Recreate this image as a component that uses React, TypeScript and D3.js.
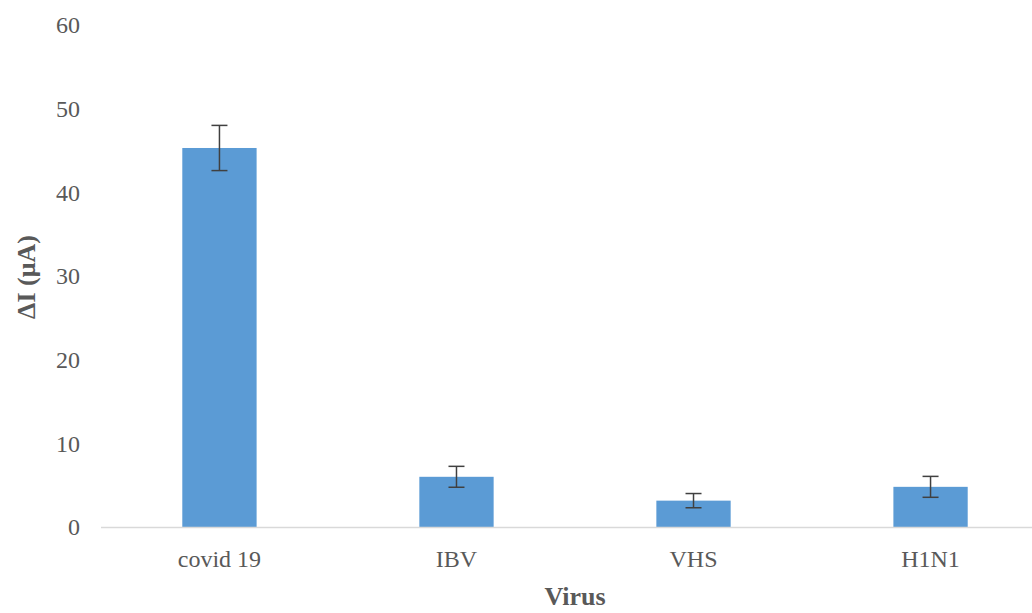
import React from "react";
import * as d3 from "d3";

const categories: string[] = ["covid 19", "IBV", "VHS", "H1N1"];
const currents: number[] = [45.3, 6.0, 3.15, 4.8];
const errors: number[] = [2.7, 1.25, 0.85, 1.25];
const yTicks: number[] = [0, 10, 20, 30, 40, 50, 60];

const W = 1032;
const H = 613;
const FONT = "'Liberation Serif', 'Times New Roman', serif";

export default function App() {
  const x = d3
    .scaleBand<string>()
    .domain(categories)
    .range([101, 1049])
    .paddingInner(0.6865)
    .paddingOuter(0.343);
  const y = d3.scaleLinear().domain([0, 60]).range([527, 25]);
  const bw = x.bandwidth();
  const cap = 8;

  return (
    <svg
      width={W}
      height={H}
      style={{ position: "absolute", left: 0, top: 0, background: "#fff" }}
      fontFamily={FONT}
    >
      {/* value axis labels */}
      {yTicks.map((t) => (
        <text
          key={t}
          x={80}
          y={y(t)}
          dy="0.35em"
          textAnchor="end"
          fontSize={24}
          fill="#595959"
        >
          {t}
        </text>
      ))}

      {/* bars */}
      {categories.map((c, i) => (
        <rect
          key={c}
          x={x(c)!}
          y={y(currents[i])}
          width={bw}
          height={y(0) - y(currents[i])}
          fill="#5B9BD5"
        />
      ))}

      {/* category axis line */}
      <line x1={101} x2={W} y1={527.5} y2={527.5} stroke="#D9D9D9" strokeWidth={1.5} />

      {/* error bars */}
      {categories.map((c, i) => {
        const cx = x(c)! + bw / 2;
        const hi = y(currents[i] + errors[i]);
        const lo = y(currents[i] - errors[i]);
        return (
          <g key={c} stroke="#404040" strokeWidth={1.5}>
            <line x1={cx} x2={cx} y1={hi} y2={lo} />
            <line x1={cx - cap} x2={cx + cap} y1={hi} y2={hi} />
            <line x1={cx - cap} x2={cx + cap} y1={lo} y2={lo} />
          </g>
        );
      })}

      {/* category labels */}
      {categories.map((c) => (
        <text
          key={c}
          x={x(c)! + bw / 2}
          y={567}
          textAnchor="middle"
          fontSize={24}
          fill="#595959"
        >
          {c}
        </text>
      ))}

      {/* axis titles */}
      <text
        x={575}
        y={605}
        textAnchor="middle"
        fontSize={26}
        fontWeight="bold"
        fill="#595959"
      >
        Virus
      </text>
      <text
        transform={`translate(26,277) rotate(-90)`}
        dy="0.35em"
        textAnchor="middle"
        fontSize={26}
        fontWeight="bold"
        fill="#595959"
      >
        ΔI (μA)
      </text>
    </svg>
  );
}
